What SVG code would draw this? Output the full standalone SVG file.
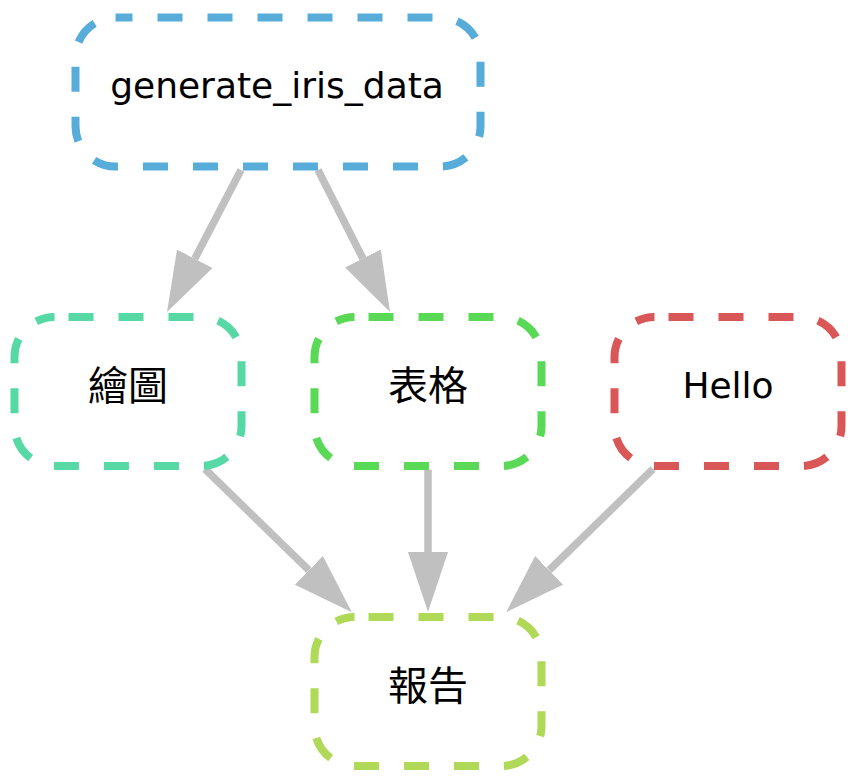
<svg xmlns="http://www.w3.org/2000/svg" width="858" height="783" viewBox="0 0 858 783">
<defs>
<marker id="arr" markerUnits="userSpaceOnUse" markerWidth="60" markerHeight="40" refX="0" refY="20" orient="auto" viewBox="0 0 60 40">
<path d="M0,0 L60,20 L0,40 Z" fill="#c0c0c0"/>
</marker>
</defs>
<style>
.node rect { fill: #ffffff; stroke-width: 8; stroke-dasharray: 25 25; }
.mid rect { stroke-dashoffset: 36; }
.lat { font-family: "DejaVu Sans", "Liberation Sans", sans-serif; font-size: 36px; fill: #000; text-anchor: middle; }
.cjk { font-family: "Noto Sans CJK TC", "Noto Sans CJK SC", sans-serif; font-size: 40px; fill: #000; text-anchor: middle; }
.edge { stroke: #c0c0c0; stroke-width: 7.5; fill: none; marker-end: url(#arr); }
</style>
<rect width="858" height="783" fill="#ffffff"/>
<g id="connectors">
<line class="edge" x1="241" y1="170" x2="194.75" y2="258.75"/>
<line class="edge" x1="318" y1="170" x2="362.9" y2="258.5"/>
<line class="edge" x1="205" y1="469" x2="308.9" y2="570.3"/>
<line class="edge" x1="428" y1="470" x2="428" y2="552"/>
<line class="edge" x1="653" y1="469" x2="549.1" y2="570.3"/>
</g>
<g id="generate_iris_data" class="node">
<rect x="75.5" y="17.5" width="405" height="149" rx="40" ry="40" stroke="#57acd9" style="stroke-dashoffset:8"/>
<text class="lat" x="277" y="98">generate_iris_data</text>
</g>
<g id="plot" class="node mid">
<rect x="14.5" y="317" width="227" height="149" rx="40" ry="40" stroke="#57d9a6"/>
<text class="cjk" x="128" y="400">繪圖</text>
</g>
<g id="table" class="node mid">
<rect x="314.5" y="317" width="227" height="149" rx="40" ry="40" stroke="#5ad957"/>
<text class="cjk" x="428" y="400">表格</text>
</g>
<g id="hello" class="node mid">
<rect x="614.5" y="317" width="227" height="149" rx="40" ry="40" stroke="#d95757"/>
<text class="lat" x="728" y="398">Hello</text>
</g>
<g id="report" class="node mid">
<rect x="314.5" y="617" width="227" height="149" rx="40" ry="40" stroke="#afd957"/>
<text class="cjk" x="428" y="700">報告</text>
</g>
</svg>
